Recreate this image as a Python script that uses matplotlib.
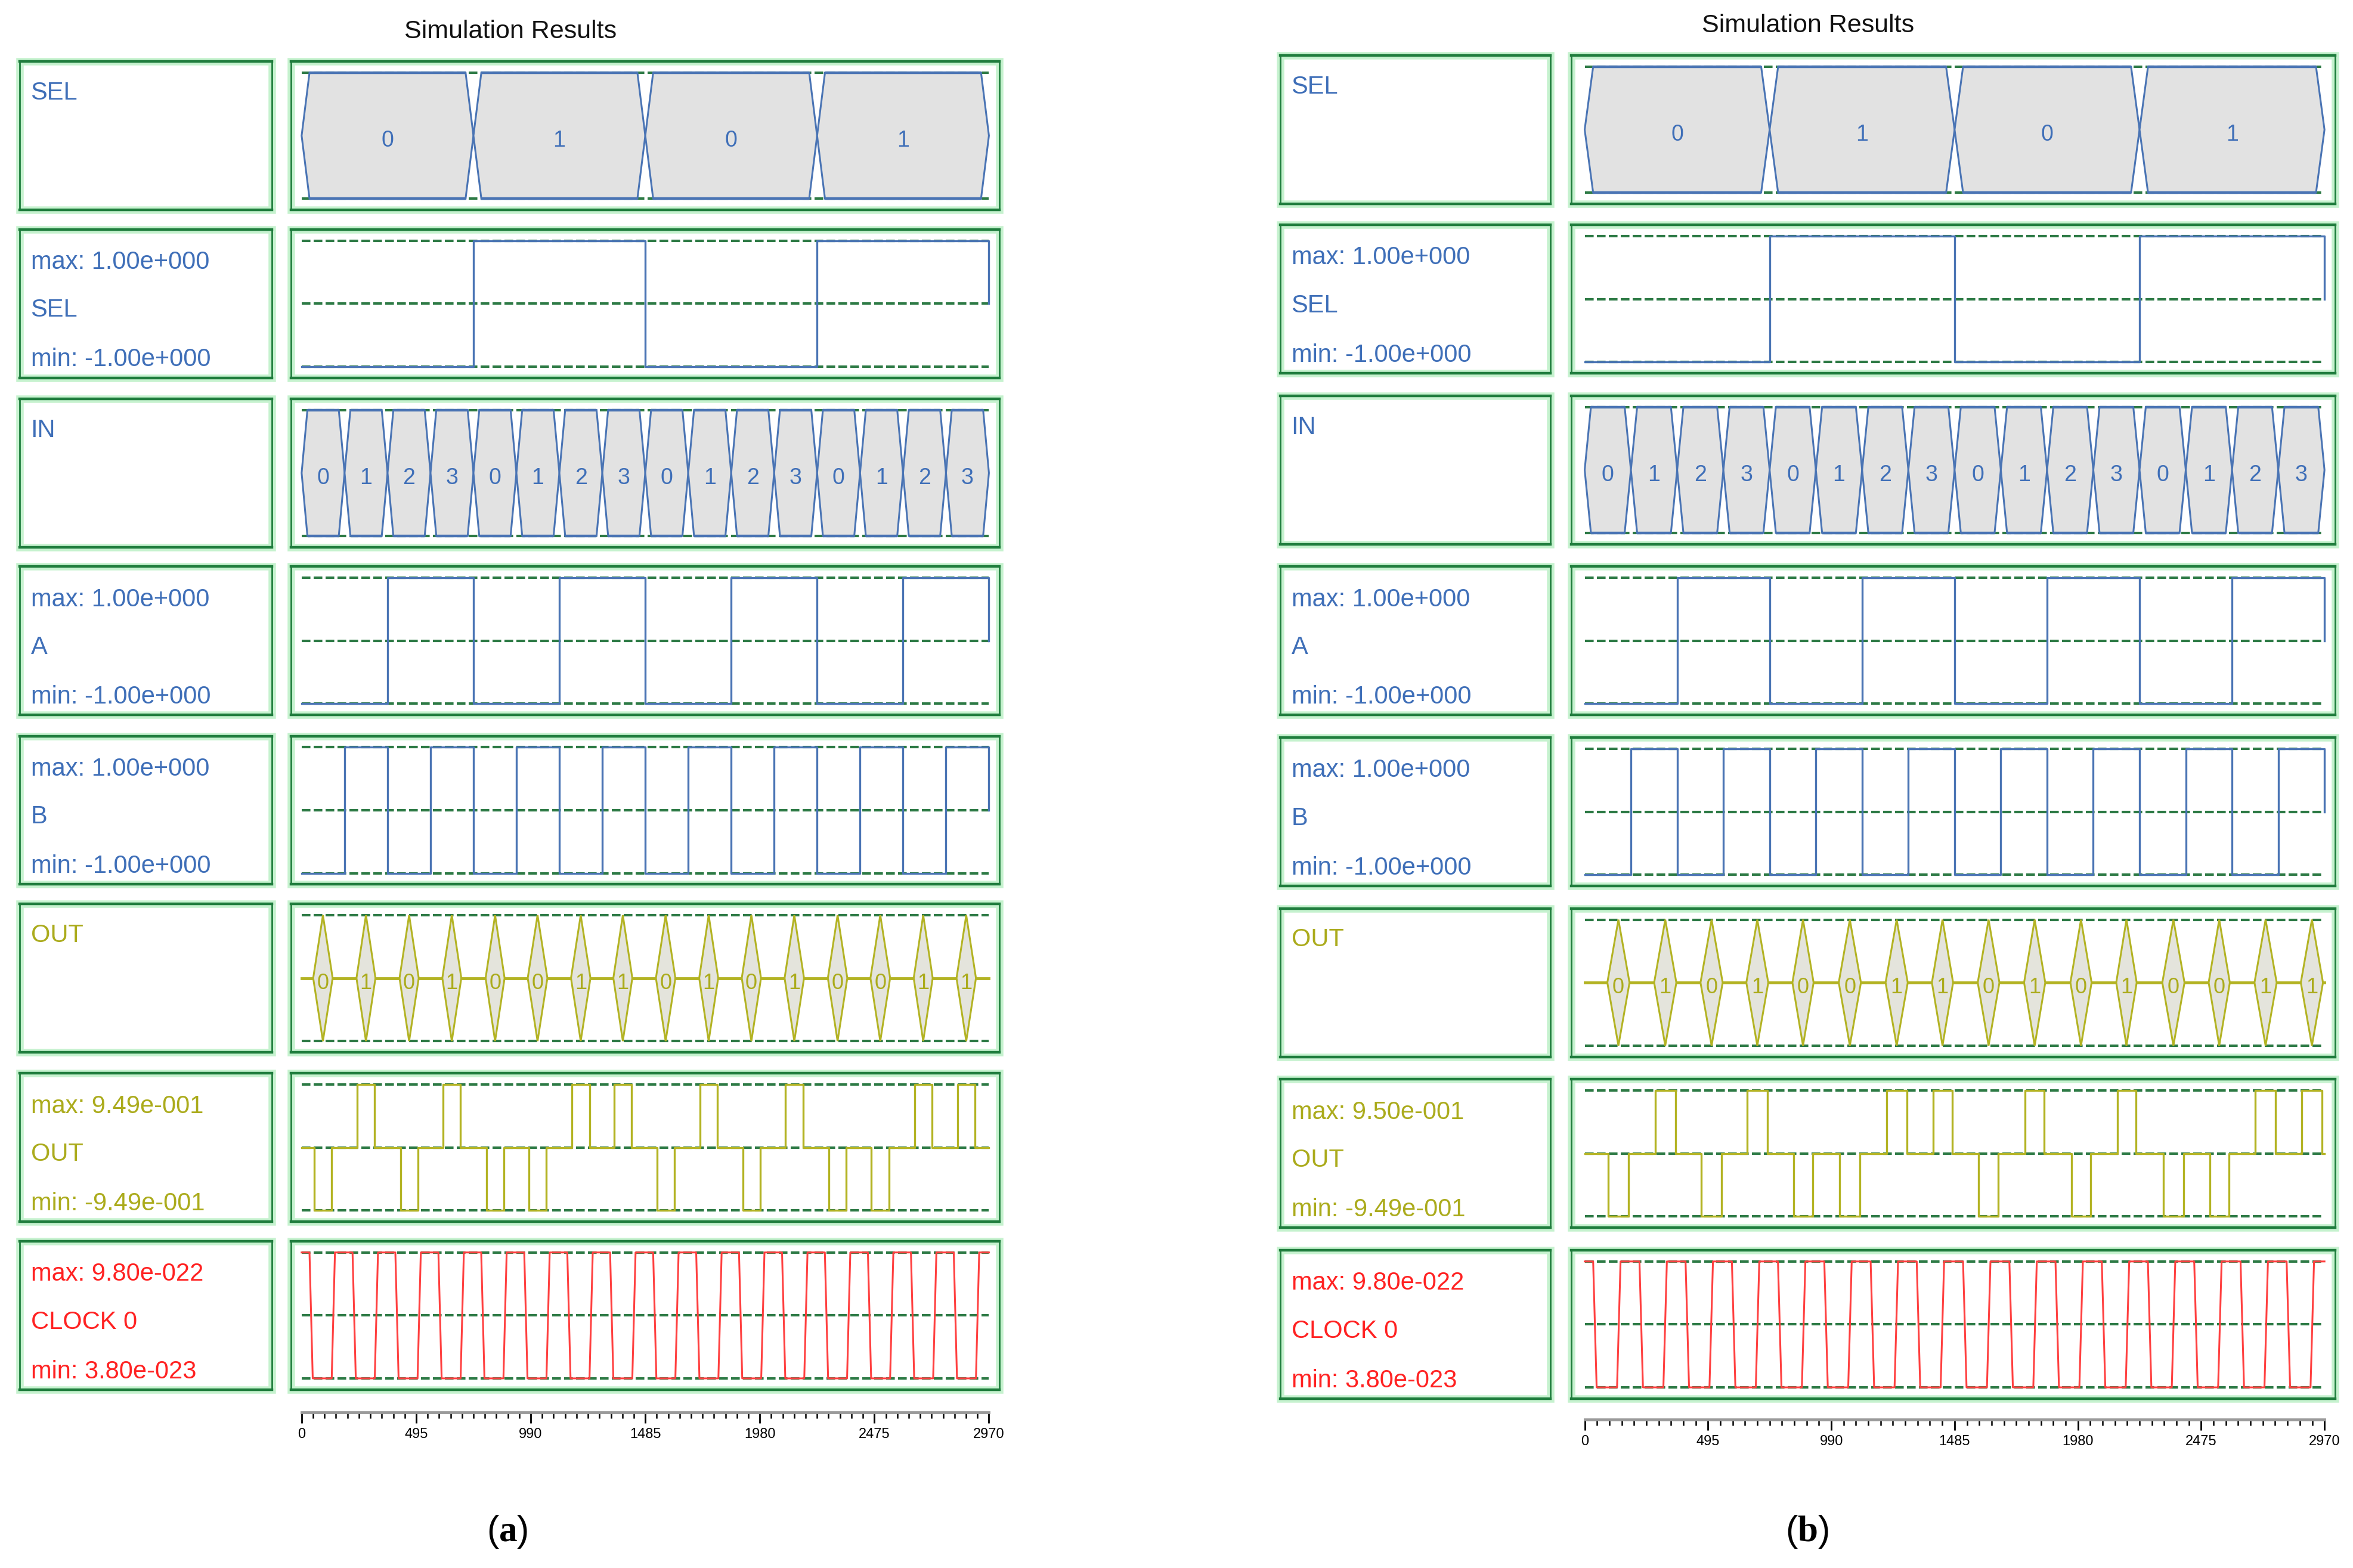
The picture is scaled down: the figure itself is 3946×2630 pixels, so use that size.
import matplotlib
matplotlib.use('Agg')
import matplotlib.pyplot as plt
from matplotlib.patches import Polygon, Rectangle
from matplotlib.ticker import MultipleLocator, FixedLocator

plt.rcParams['font.family'] = ['Liberation Sans', 'DejaVu Sans']
plt.rcParams['mathtext.fontset'] = 'custom'
plt.rcParams['mathtext.rm'] = 'Liberation Serif'
plt.rcParams['mathtext.bf'] = 'Liberation Serif:bold'

# ---------------- data ----------------
T_END = 2970
axis_ticks = [0, 495, 990, 1485, 1980, 2475, 2970]
axis_labels = ['0', '495', '990', '1485', '1980', '2475', '2970']

sel_edges = [0, 742.5, 1485, 2227.5, 2970]
sel_values = [0, 1, 0, 1]

in_edges = [0, 185.6, 371.3, 556.9, 742.5, 928.1, 1113.8, 1299.4, 1485,
            1670.6, 1856.3, 2041.9, 2227.5, 2413.1, 2598.8, 2784.4, 2970]
in_values = [0, 1, 2, 3, 0, 1, 2, 3, 0, 1, 2, 3, 0, 1, 2, 3]

a_edges = [0, 371.3, 742.5, 1113.8, 1485, 1856.3, 2227.5, 2598.8, 2970]
a_values = [0, 1, 0, 1, 0, 1, 0, 1]

b_edges = [0, 185.6, 371.3, 556.9, 742.5, 928.1, 1113.8, 1299.4, 1485,
           1670.6, 1856.3, 2041.9, 2227.5, 2413.1, 2598.8, 2784.4, 2970]
b_values = [0, 1, 0, 1, 0, 1, 0, 1, 0, 1, 0, 1, 0, 1, 0, 1]

out_values = [0, 1, 0, 1, 0, 0, 1, 1, 0, 1, 0, 1, 0, 0, 1, 1]
out_start_a = [54, 241, 427, 612, 799, 981, 1168, 1351, 1535, 1722, 1906, 2091, 2278, 2462, 2649, 2834]
out_end_a = [130, 315, 502, 686, 873, 1058, 1244, 1425, 1611, 1796, 1981, 2167, 2354, 2539, 2723, 2910]
out_start_b = [95, 283, 469, 653, 838, 1024, 1212, 1398, 1582, 1768, 1954, 2138, 2323, 2509, 2693, 2879]
out_end_b = [176, 364, 550, 733, 915, 1105, 1293, 1475, 1661, 1845, 2031, 2212, 2404, 2586, 2774, 2960]
out_max_a, out_min_a = 0.949, -0.949
out_max_b, out_min_b = 0.950, -0.949

clk_fall = [34, 220, 405, 591, 776, 962, 1148, 1333, 1519, 1705, 1890, 2076, 2261, 2447, 2633, 2818]
clk_rise = [130, 316, 501, 687, 872, 1058, 1244, 1429, 1615, 1801, 1986, 2172, 2357, 2543, 2729, 2914]
clk_edge = 14
clk_max, clk_min = 9.80e-22, 3.80e-23

labels_a = {
    'sel': ('max: 1.00e+000', 'SEL', 'min: -1.00e+000'),
    'a': ('max: 1.00e+000', 'A', 'min: -1.00e+000'),
    'b': ('max: 1.00e+000', 'B', 'min: -1.00e+000'),
    'out': ('max: 9.49e-001', 'OUT', 'min: -9.49e-001'),
    'clk': ('max: 9.80e-022', 'CLOCK 0', 'min: 3.80e-023'),
}
labels_b = dict(labels_a)
labels_b['out'] = ('max: 9.50e-001', 'OUT', 'min: -9.49e-001')

# ---------------- style ----------------
BLUE = '#4a74b4'
BLUE_T = '#3f6fb8'
OLIVE = '#b3b323'
OLIVE_T = '#abab1c'
RED = '#ff4040'
RED_T = '#ff2222'
DASH = '#2d7a45'
BORDER = '#1f7d3d'
GLOW = '#c6f2cf'
FILL = '#e2e2e2'

W, H = 1568.0, 1046.0
fig = plt.figure(figsize=(39.46, 26.30), dpi=100)
fig.patch.set_facecolor('white')


def fax(x0, y0, x1, y1):
    return fig.add_axes([x0 / W, 1 - y1 / H, (x1 - x0) / W, (y1 - y0) / H])


def style_box(ax):
    ax.set_xticks([])
    ax.set_yticks([])
    for k, sp in ax.spines.items():
        sp.set_color(BORDER)
        sp.set_linewidth(3.2 if k in ('top', 'bottom') else 2.0)
    ax.add_patch(Rectangle((0, 0), 1, 1, transform=ax.transAxes, fill=False,
                           ec=GLOW, lw=9, clip_on=False, zorder=0.2))


PAD = 7.5 / 42.0
TXT_DY = -0.08


def set_ylim(ax, lo, hi):
    half = (hi - lo) / 2.0
    ax.set_ylim(lo - PAD * half, hi + PAD * half)


def dashes(ax, levels):
    for lv in levels:
        ax.plot([0, T_END], [lv, lv], color=DASH, lw=3.0,
                linestyle=(0, (3.5, 1.3)), zorder=1, solid_capstyle='butt')


def bus_row(ax, edges, values, d, color, tcolor, fs):
    set_ylim(ax, -1, 1)
    dashes(ax, [1, -1])
    for i, v in enumerate(values):
        t0, t1 = edges[i], edges[i + 1]
        poly = Polygon([(t0, 0), (t0 + d, 1), (t1 - d, 1), (t1, 0), (t1 - d, -1), (t0 + d, -1)],
                       closed=True, fc=FILL, ec=color, lw=2.2, zorder=2)
        ax.add_patch(poly)
        ax.plot([t0 + d, t1 - d], [1, 1], color=color, lw=3.2, zorder=2.5,
                solid_capstyle='butt')
        ax.plot([t0 + d, t1 - d], [-1, -1], color=color, lw=3.2, zorder=2.5,
                solid_capstyle='butt')
        ax.text((t0 + t1) / 2, TXT_DY, str(v), color=tcolor, fontsize=fs,
                ha='center', va='center', zorder=3)


def step_row(ax, edges, values, color):
    set_ylim(ax, -1, 1)
    dashes(ax, [1, 0, -1])
    xs, ys = [], []
    for i, v in enumerate(values):
        lv = 1 if v else -1
        xs += [edges[i], edges[i + 1]]
        ys += [lv, lv]
    xs.append(edges[-1])
    ys.append(0)
    ax.plot(xs, ys, color=color, lw=2.4, zorder=2)


def outbus_row(ax, starts, ends, values, fs):
    set_ylim(ax, -1, 1)
    dashes(ax, [1, -1])
    ax.plot([0, T_END], [0, 0], color=OLIVE, lw=3.5, zorder=2)
    for s, e, v in zip(starts, ends, values):
        c = (s + e) / 2
        poly = Polygon([(s - 4, 0), (c, 1), (e + 4, 0), (c, -1)], closed=True,
                       fc='#e4e4dc', ec=OLIVE, lw=2.2, zorder=3)
        ax.add_patch(poly)
        ax.text(c, TXT_DY, str(v), color=OLIVE_T, fontsize=fs, ha='center',
                va='center', zorder=4)


def outan_row(ax, starts, ends, values, vmax, vmin):
    set_ylim(ax, vmin, vmax)
    dashes(ax, [vmax, 0, vmin])
    xs, ys = [0], [0]
    for s, e, v in zip(starts, ends, values):
        lv = vmax if v else vmin
        xs += [s, s, e, e]
        ys += [0, lv, lv, 0]
    xs.append(T_END)
    ys.append(0)
    ax.plot(xs, ys, color=OLIVE, lw=2.4, zorder=2)


def clock_row(ax, falls, rises, edge, vmax, vmin):
    set_ylim(ax, vmin, vmax)
    dashes(ax, [vmax, (vmax + vmin) / 2, vmin])
    xs, ys = [0], [vmax]
    for f, r in zip(falls, rises):
        xs += [f, f + edge, r, r + edge]
        ys += [vmax, vmin, vmin, vmax]
    xs.append(T_END)
    ys.append(vmax)
    ax.plot(xs, ys, color=RED, lw=2.2, zorder=2)


def panel(P, labels, out_start, out_end, out_max, out_min, cap):
    s = T_END / (P['t1x'] - P['t0x'])
    xlim = ((P['wx0'] - P['t0x']) * s, (P['wx1'] - P['t0x']) * s)
    lw_ = P['lx1'] - P['lx0']
    specs = [
        ('SEL', BLUE_T),
        (labels['sel'], BLUE_T),
        ('IN', BLUE_T),
        (labels['a'], BLUE_T),
        (labels['b'], BLUE_T),
        ('OUT', OLIVE_T),
        (labels['out'], OLIVE_T),
        (labels['clk'], RED_T),
    ]
    for i, top in enumerate(P['tops']):
        bot = top + P['h']
        # label box
        la = fax(P['lx0'], top, P['lx1'], bot)
        style_box(la)
        la.set_xlim(0, 1)
        la.set_ylim(0, 1)
        txt, col = specs[i]
        xt = 7.5 / lw_
        if isinstance(txt, tuple):
            for t, off in zip(txt, (22, 54, 87)):
                la.text(xt, 1 - off / P['h'], t, color=col, fontsize=30,
                        ha='left', va='center', transform=la.transAxes)
        else:
            la.text(xt, 1 - 21 / P['h'], txt, color=col, fontsize=30,
                    ha='left', va='center', transform=la.transAxes)
        # waveform box
        wa = fax(P['wx0'], top, P['wx1'], bot)
        style_box(wa)
        wa.set_xlim(*xlim)
        if i == 0:
            bus_row(wa, sel_edges, sel_values, 34, BLUE, BLUE_T, 27)
        elif i == 1:
            step_row(wa, sel_edges, sel_values, BLUE)
        elif i == 2:
            bus_row(wa, in_edges, in_values, 25, BLUE, BLUE_T, 27)
        elif i == 3:
            step_row(wa, a_edges, a_values, BLUE)
        elif i == 4:
            step_row(wa, b_edges, b_values, BLUE)
        elif i == 5:
            outbus_row(wa, out_start, out_end, out_values, 26)
        elif i == 6:
            outan_row(wa, out_start, out_end, out_values, out_max, out_min)
        else:
            clock_row(wa, clk_fall, clk_rise, clk_edge, clk_max, clk_min)
        wa.set_xlim(*xlim)

    # time ruler
    ra = fax(P['t0x'], P['ay'] - 4, P['t1x'], P['ay'])
    ra.set_xlim(0, T_END)
    ra.set_yticks([])
    for k in ('top', 'left', 'right'):
        ra.spines[k].set_visible(False)
    ra.spines['bottom'].set_color('#9a9a9a')
    ra.spines['bottom'].set_linewidth(3.5)
    ra.patch.set_alpha(0)
    ra.xaxis.set_major_locator(FixedLocator(axis_ticks))
    ra.set_xticklabels(axis_labels)
    ra.xaxis.set_minor_locator(MultipleLocator(49.5))
    ra.tick_params(axis='x', which='major', direction='out', length=13, width=2,
                   color='black', labelsize=17, pad=6)
    ra.tick_params(axis='x', which='minor', direction='out', length=7, width=1.8,
                   color='black')

    fig.text(P['title'][0] / W, 1 - P['title'][1] / H, 'Simulation Results',
             fontsize=31, ha='center', va='center', color='#111111')
    fig.text(P['cap'][0] / W, 1 - P['cap'][1] / H, cap, fontsize=44,
             ha='center', va='center', color='black')


PA = dict(lx0=13, lx1=181, wx0=194, wx1=666, t0x=201, t1x=659,
          tops=[41, 153, 266, 378, 491, 603, 716, 828], h=99,
          title=(340, 21), ay=942, cap=(338, 1022))
PB = dict(lx0=853, lx1=1033, wx0=1047, wx1=1556, t0x=1056, t1x=1549,
          tops=[37, 150, 264, 378, 492, 606, 720, 834], h=99,
          title=(1205, 17), ay=947, cap=(1204, 1022))

panel(PA, labels_a, out_start_a, out_end_a, out_max_a, out_min_a, r'($\mathbf{a}$)')
panel(PB, labels_b, out_start_b, out_end_b, out_max_b, out_min_b, r'($\mathbf{b}$)')

fig.savefig('out.png', dpi=100, facecolor='white')
